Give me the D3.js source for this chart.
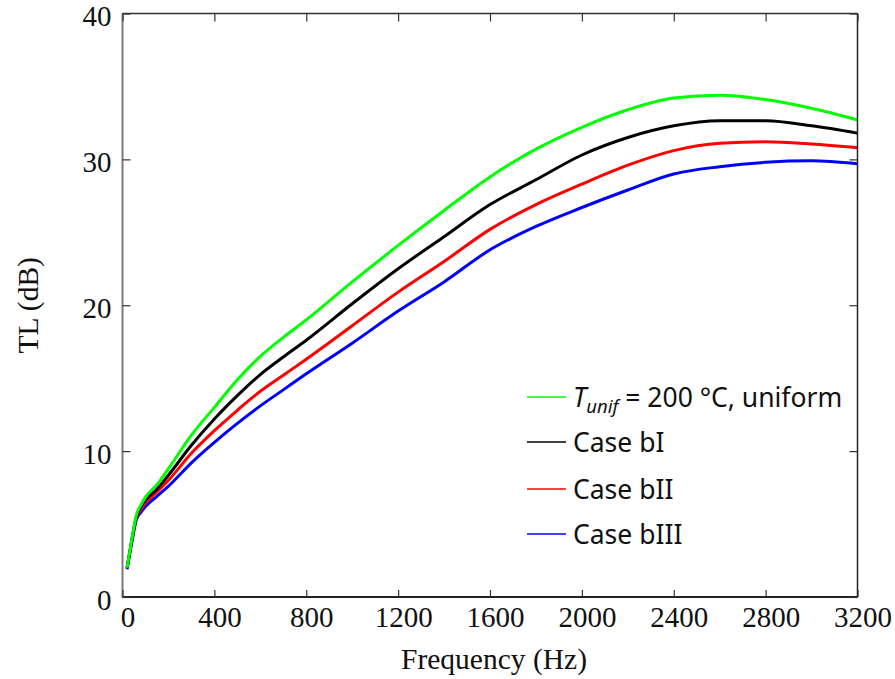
<!DOCTYPE html>
<html>
<head>
<meta charset="utf-8">
<script src="https://cdn.jsdelivr.net/npm/d3@7"></script>
<style>
  html, body { margin: 0; padding: 0; background: #fff; }
  svg { display: block; }
</style>
</head>
<body>
<svg id="chart" width="895" height="679"></svg>
<script>
// ---- data ----
const freq = [20, 40, 60, 80, 100, 150, 200, 300, 400, 500, 600, 700, 800, 1000, 1200, 1400, 1600, 1800, 2000, 2200, 2400, 2600, 2800, 3000, 3200];
const tlUniform = [2.0, 3.9, 5.6, 6.3, 6.85, 7.7, 8.8, 11.1, 13.0, 14.9, 16.5, 17.8, 19.0, 21.6, 24.1, 26.5, 28.8, 30.7, 32.2, 33.4, 34.2, 34.4, 34.1, 33.5, 32.7];
const tlCaseBI = [2.0, 3.85, 5.5, 6.2, 6.65, 7.4, 8.35, 10.4, 12.2, 13.8, 15.25, 16.45, 17.6, 20.1, 22.5, 24.7, 26.9, 28.6, 30.3, 31.5, 32.3, 32.65, 32.65, 32.3, 31.8];
const tlCaseBII = [2.0, 3.8, 5.4, 6.0, 6.45, 7.2, 8.0, 9.85, 11.4, 12.8, 14.1, 15.2, 16.3, 18.6, 20.9, 23.0, 25.2, 26.9, 28.3, 29.6, 30.6, 31.1, 31.2, 31.05, 30.8];
const tlCaseBIII = [1.9, 3.7, 5.3, 5.8, 6.2, 6.9, 7.6, 9.2, 10.6, 11.9, 13.1, 14.2, 15.3, 17.4, 19.6, 21.6, 23.8, 25.4, 26.7, 27.9, 29.0, 29.5, 29.8, 29.9, 29.7];
const seriesNames = ["uniform", "Case bI", "Case bII", "Case bIII"];
const seriesColors = ["#00ff00", "#000000", "#ff0000", "#0000ff"];
const xTicks = [0, 400, 800, 1200, 1600, 2000, 2400, 2800, 3200];
const yTicks = [0, 10, 20, 30, 40];
const xLabel = "Frequency (Hz)";
const yLabel = "TL (dB)";

const seriesValues = [tlUniform, tlCaseBI, tlCaseBII, tlCaseBIII];

// ---- layout ----
const svg = d3.select("#chart");
const L = 122.5, R = 857.5, T = 13.5, B = 597;
const x = d3.scaleLinear().domain([0, 3200]).range([L, R]);
const y = d3.scaleLinear().domain([0, 40]).range([B, T]);

const serif = "'Liberation Serif', 'Times New Roman', serif";
const sans = "'Noto Sans', 'Open Sans', sans-serif";
const tickFont = 29;

// curves
const line = d3.line().x(d => x(d[0])).y(d => y(d[1])).curve(d3.curveMonotoneX);
const order = [3, 2, 1, 0];
order.forEach(i => {
  const pts = freq.map((f, k) => [f, seriesValues[i][k]]);
  svg.append("path")
    .datum(pts)
    .attr("fill", "none")
    .attr("stroke", seriesColors[i])
    .attr("stroke-width", 3)
    .attr("stroke-linejoin", "round")
    .attr("d", line);
});

// frame
const frame = svg.append("g");
frame.append("line").attr("x1", L).attr("x2", R).attr("y1", T).attr("y2", T).attr("stroke", "#333").attr("stroke-width", 1.5);
frame.append("line").attr("x1", L).attr("x2", R).attr("y1", B).attr("y2", B).attr("stroke", "#222").attr("stroke-width", 1.8);
frame.append("line").attr("x1", R).attr("x2", R).attr("y1", T).attr("y2", B).attr("stroke", "#222").attr("stroke-width", 1.5);
frame.append("line").attr("x1", L).attr("x2", L).attr("y1", T).attr("y2", B + 1).attr("stroke", "#7a7a7a").attr("stroke-width", 2);

// bottom axis ticks (inward) + labels
const gx = svg.append("g").attr("transform", `translate(0,${B})`)
  .call(d3.axisBottom(x).tickValues(xTicks).tickSizeInner(-7).tickSizeOuter(0).tickFormat(d3.format("d")));
gx.select(".domain").remove();
gx.selectAll(".tick line").attr("stroke", "#333").attr("stroke-width", 1.2);
gx.selectAll(".tick text").attr("font-family", serif).attr("font-size", tickFont).attr("fill", "#111")
  .attr("dx", 5).attr("y", 30).attr("dy", 0);

// top ticks
const gt = svg.append("g").attr("transform", `translate(0,${T})`)
  .call(d3.axisTop(x).tickValues(xTicks).tickSizeInner(-8).tickSizeOuter(0).tickFormat(""));
gt.select(".domain").remove();
gt.selectAll(".tick line").attr("stroke", "#333").attr("stroke-width", 1.2);

// left axis
const gy = svg.append("g").attr("transform", `translate(${L},0)`)
  .call(d3.axisLeft(y).tickValues(yTicks).tickSizeInner(-8).tickSizeOuter(0).tickFormat(d3.format("d")));
gy.select(".domain").remove();
gy.selectAll(".tick line").attr("stroke", "#333").attr("stroke-width", 1.2);
gy.selectAll(".tick text").attr("font-family", serif).attr("font-size", tickFont).attr("fill", "#111")
  .attr("x", -11).attr("dy", "0.42em");

// right ticks
const gr = svg.append("g").attr("transform", `translate(${R},0)`)
  .call(d3.axisRight(y).tickValues(yTicks).tickSizeInner(-8).tickSizeOuter(0).tickFormat(""));
gr.select(".domain").remove();
gr.selectAll(".tick line").attr("stroke", "#333").attr("stroke-width", 1.2);

// axis titles
svg.append("text")
  .attr("x", (L + R) / 2 + 4).attr("y", 669)
  .attr("text-anchor", "middle")
  .attr("font-family", serif).attr("font-size", 29.5).attr("fill", "#111")
  .text(xLabel);
svg.append("text")
  .attr("transform", `translate(38,${(T + B) / 2}) rotate(-90)`)
  .attr("text-anchor", "middle")
  .attr("font-family", serif).attr("font-size", 29.5).attr("fill", "#111")
  .text(yLabel);

// legend
const legRowY = [397, 442, 489, 534];
const leg = svg.append("g");
seriesNames.forEach((name, i) => {
  const yy = legRowY[i];
  leg.append("line").attr("x1", 527).attr("x2", 566).attr("y1", yy).attr("y2", yy)
    .attr("stroke", seriesColors[i]).attr("stroke-width", 1.6);
  const t = leg.append("text").attr("x", 573).attr("y", yy).attr("dy", "0.36em")
    .attr("font-family", sans).attr("font-size", 26.5).attr("fill", "#111");
  if (i === 0) {
    t.append("tspan").attr("font-style", "italic").text("T");
    t.append("tspan").attr("font-style", "italic").attr("font-size", 18.5).attr("dy", 6).text("unif");
    t.append("tspan").attr("dy", -6).text(" = 200 °C, " + name);
  } else {
    t.text(name);
  }
});
</script>
</body>
</html>
